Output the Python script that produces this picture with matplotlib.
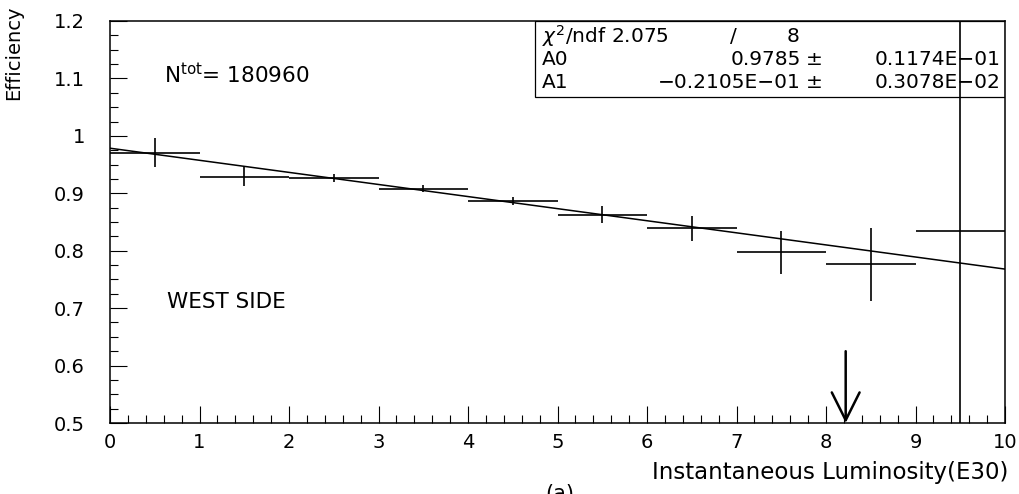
import matplotlib
matplotlib.use("Agg")
import matplotlib.pyplot as plt
import matplotlib.ticker as mticker
from matplotlib.patches import Rectangle
import numpy as np

# efficiency vs instantaneous luminosity, west side
lumi_bins = [0.5, 1.5, 2.5, 3.5, 4.5, 5.5, 6.5, 7.5, 8.5, 9.5]
bin_halfwidth = [0.5] * 10
efficiency = [0.971, 0.929, 0.926, 0.908, 0.887, 0.863, 0.839, 0.797, 0.776, 0.834]
eff_err = [0.026, 0.017, 0.007, 0.006, 0.007, 0.014, 0.022, 0.038, 0.063, 0.5]

# fit result p0 + p1*x
A0, A0_err = 0.9785, "0.1174E\u221201"
A1, A1_err = -0.02105, "0.3078E\u221202"
chi2, ndf = "2.075", "8"
n_tot = "180960"
arrow_x = 8.22

plt.rcParams['font.family'] = ['DejaVu Sans']
plt.rcParams['mathtext.fontset'] = 'dejavusans'

fig = plt.figure(figsize=(10.2, 4.94), dpi=100)
ax = fig.add_axes([110/1020, 1-423/494, 895/1020, 402/494])

ax.errorbar(lumi_bins, efficiency, xerr=bin_halfwidth, yerr=eff_err,
            fmt='none', ecolor='black', elinewidth=1.2, capsize=0, zorder=4)

xfit = np.array([0.0, 10.0])
ax.plot(xfit, A0 + A1 * xfit, color='black', lw=1.1, zorder=3)

ax.set_xlim(0, 10)
ax.set_ylim(0.5, 1.2)

ax.xaxis.set_major_locator(mticker.MultipleLocator(1))
ax.xaxis.set_minor_locator(mticker.MultipleLocator(0.2))
ax.yaxis.set_major_locator(mticker.MultipleLocator(0.1))
ax.yaxis.set_minor_locator(mticker.MultipleLocator(0.025))
ax.yaxis.set_major_formatter(mticker.FuncFormatter(lambda v, p: "%g" % round(v, 2)))
ax.xaxis.set_major_formatter(mticker.FuncFormatter(lambda v, p: "%g" % v))

ax.tick_params(which='both', direction='in', top=False, right=False, width=0.8, colors='black')
ax.tick_params(which='major', length=12)
ax.tick_params(which='minor', length=6)
ax.tick_params(axis='x', which='major', labelsize=14, pad=7)
ax.tick_params(axis='y', which='major', labelsize=14, pad=18)
for s in ax.spines.values():
    s.set_linewidth(1.1)

# stat box
ax.add_patch(Rectangle((0.475, 0.811), 0.525, 0.189, transform=ax.transAxes,
                       facecolor='white', edgecolor='black', lw=0.9, zorder=2))
fs = 14.5
ax.text(0.483, 0.962, r"$\chi^2$/ndf " + chi2, transform=ax.transAxes,
        fontsize=fs, va='center', ha='left', zorder=3)
ax.text(0.696, 0.962, "/", transform=ax.transAxes, fontsize=fs, va='center', ha='center', zorder=3)
ax.text(0.763, 0.962, ndf, transform=ax.transAxes, fontsize=fs, va='center', ha='center', zorder=3)
rows = [("A0", "%.4f" % A0, A0_err, 0.903), ("A1", "\u22120.2105E\u221201", A1_err, 0.848)]
for name, val, err, yy in rows:
    ax.text(0.483, yy, name, transform=ax.transAxes, fontsize=fs, va='center', ha='left', zorder=3)
    ax.text(0.772, yy, val, transform=ax.transAxes, fontsize=fs, va='center', ha='right', zorder=3)
    ax.text(0.787, yy, "\u00b1", transform=ax.transAxes, fontsize=fs, va='center', ha='center', zorder=3)
    ax.text(0.995, yy, err, transform=ax.transAxes, fontsize=fs, va='center', ha='right', zorder=3)

ax.text(0.6, 1.106, r"N$^{\rm tot}$= " + n_tot, fontsize=15.5, va='center', ha='left')
ax.text(0.64, 0.71, "WEST SIDE", fontsize=15.5, va='center', ha='left')

ax.annotate('', xy=(arrow_x, 0.5), xytext=(arrow_x, 0.625),
            arrowprops=dict(arrowstyle='->,head_length=2.0,head_width=1.0', lw=1.8,
                            color='black', shrinkA=0, shrinkB=0))

fig.text(14/1020, 1-5/494, "Efficiency", rotation=90, ha='center', va='top', fontsize=14)
fig.text(1008/1020, 1-472/494, "Instantaneous Luminosity(E30)", ha='right', va='center', fontsize=16.5)
fig.text(560/1020, 1-484/494, "(a)", ha='center', va='top', fontsize=15)

fig.savefig("out.png", dpi=100, facecolor='white')
